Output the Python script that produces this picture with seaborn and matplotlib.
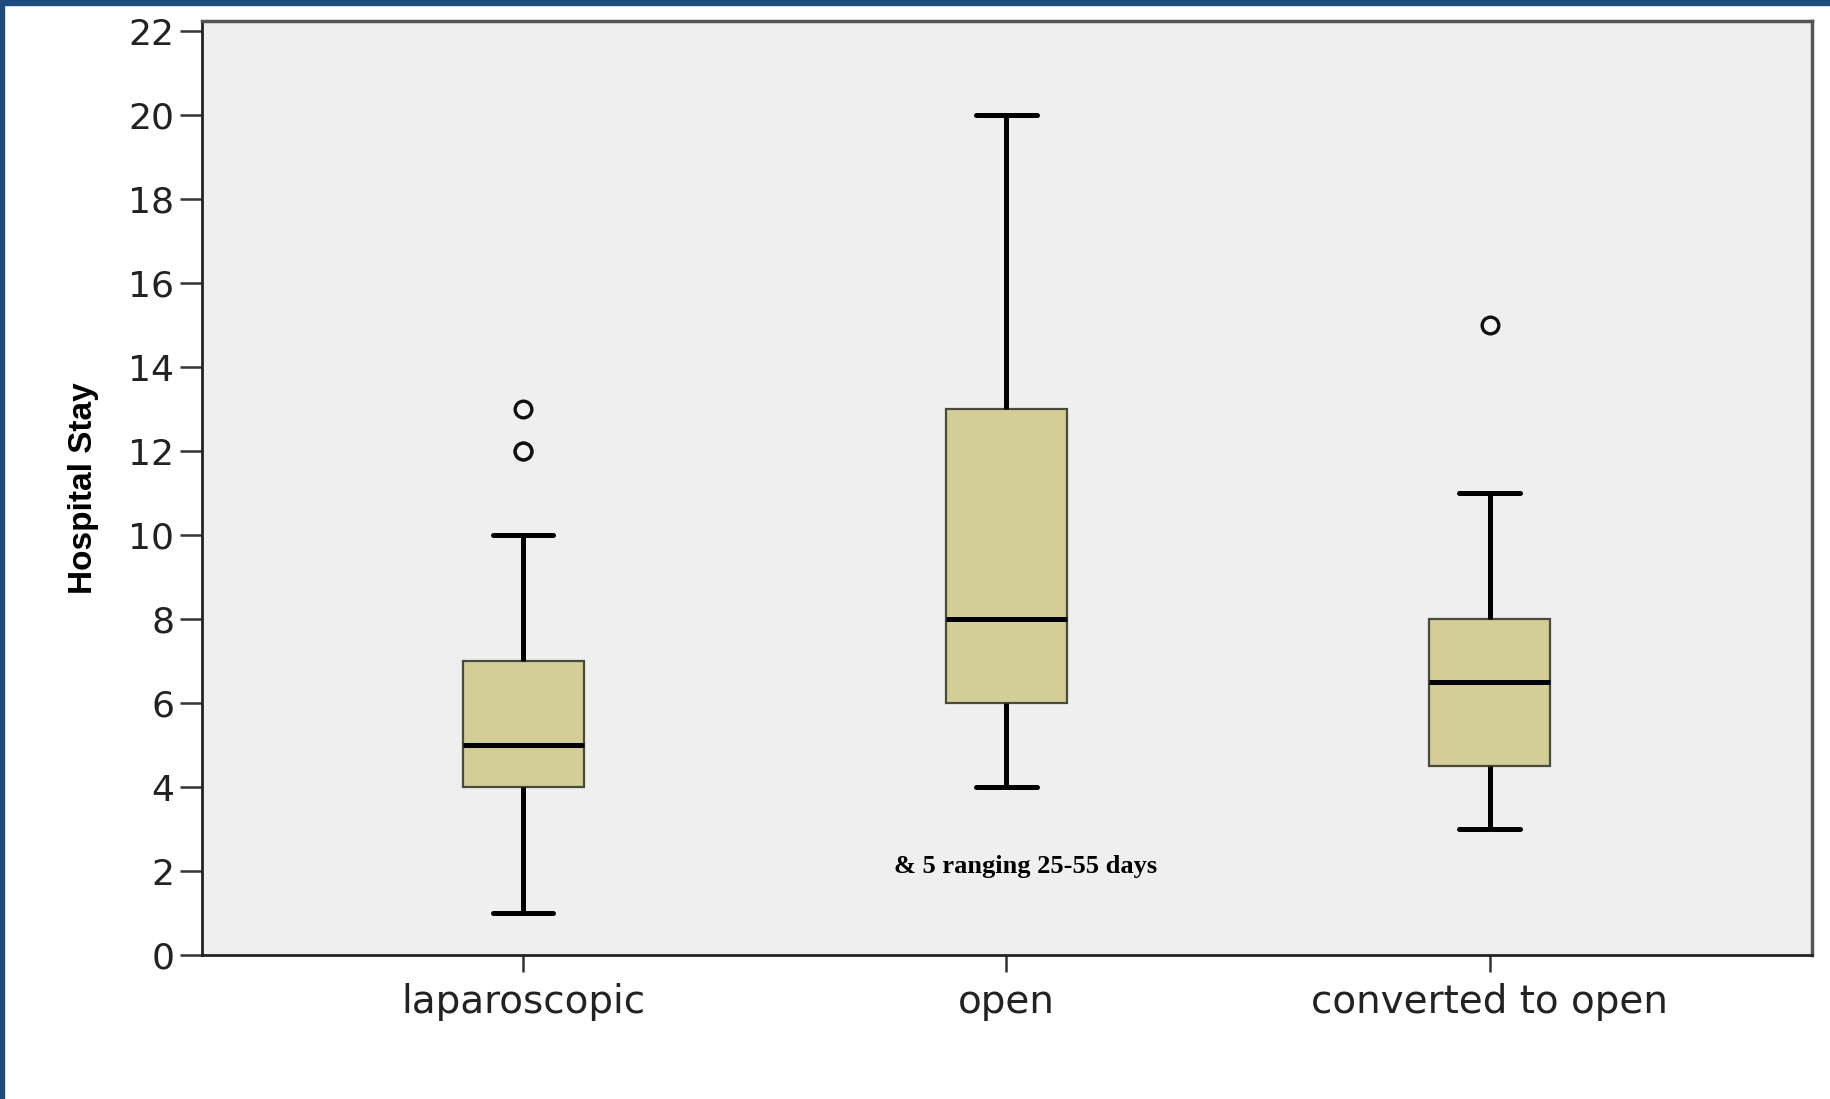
import pandas as pd
import matplotlib
matplotlib.use("Agg")
import matplotlib.pyplot as plt
import seaborn as sns
from matplotlib.patches import Rectangle

# five-number summaries (min, q1, median, q3, max)
approaches = ['laparoscopic', 'open', 'converted to open']
lap_stay = [1, 4, 5, 7, 10]
open_stay = [4, 6, 8, 13, 20]
conv_stay = [3, 4.5, 6.5, 8, 11]
# outliers
lap_out = [12, 12, 13]
conv_out = [15]

box_df = pd.DataFrame({
    'approach': [approaches[0]] * len(lap_stay) + [approaches[1]] * len(open_stay) + [approaches[2]] * len(conv_stay),
    'stay': lap_stay + open_stay + conv_stay,
})
out_df = pd.DataFrame({
    'approach': [approaches[0]] * len(lap_out) + [approaches[2]] * len(conv_out),
    'stay': lap_out + conv_out,
})

sns.set_style('white')
plt.rcParams['font.family'] = ['DejaVu Sans']

fig = plt.figure(figsize=(18.31, 10.99), dpi=100)
ax = fig.add_axes([0.1103, 0.131, 0.9896 - 0.1103, 0.981 - 0.131])
ax.set_facecolor('#EFEFEF')

sns.boxplot(data=box_df, x='approach', y='stay', order=approaches, whis=(0, 100),
            width=0.25, color='#D3CE97', saturation=1, showfliers=False, ax=ax,
            boxprops={'edgecolor': '#4a4a3a', 'linewidth': 1.6},
            whiskerprops={'color': 'black', 'linewidth': 3.6},
            capprops={'color': 'black', 'linewidth': 3.6},
            medianprops={'color': 'black', 'linewidth': 3.6})

sns.stripplot(data=out_df, x='approach', y='stay', order=approaches, jitter=False,
              color='#F4F4F4', edgecolor='#111111', linewidth=2.4, size=12, ax=ax, zorder=5)

ax.set_xlim(-0.665, 2.667)
ax.set_ylim(0, 22.25)
ax.set_yticks(range(0, 23, 2))
ax.set_xlabel('')
ax.set_ylabel('Hospital Stay', family=['Liberation Sans', 'DejaVu Sans'],
              fontweight='bold', fontsize=24, color='black')
ax.yaxis.set_label_coords(-0.064, 0.5)

ax.tick_params(axis='y', left=True, length=16, width=1.8, color='#333333',
               labelsize=26, pad=4, labelcolor='#222222')
ax.tick_params(axis='x', bottom=True, length=12, width=1.8, color='#333333',
               labelsize=28, pad=8, labelcolor='#222222')

for side in ['left', 'bottom']:
    ax.spines[side].set_color('#222222')
    ax.spines[side].set_linewidth(2)
for side in ['top', 'right']:
    ax.spines[side].set_color('#555555')
    ax.spines[side].set_linewidth(2.5)

ax.text(1.039, 2.1, '& 5 ranging 25-55 days', ha='center', va='center', color='black',
        family=['Liberation Serif', 'DejaVu Serif'], fontweight='bold', fontsize=19)

# blue frame on left and top edges
fig.add_artist(Rectangle((0, 0), 4 / 1831, 1, transform=fig.transFigure,
                         color='#1F4A7C', zorder=10))
fig.add_artist(Rectangle((0, 1 - 5 / 1099), 1, 5 / 1099, transform=fig.transFigure,
                         color='#1F4A7C', zorder=10))

fig.savefig('out.png', dpi=100)
